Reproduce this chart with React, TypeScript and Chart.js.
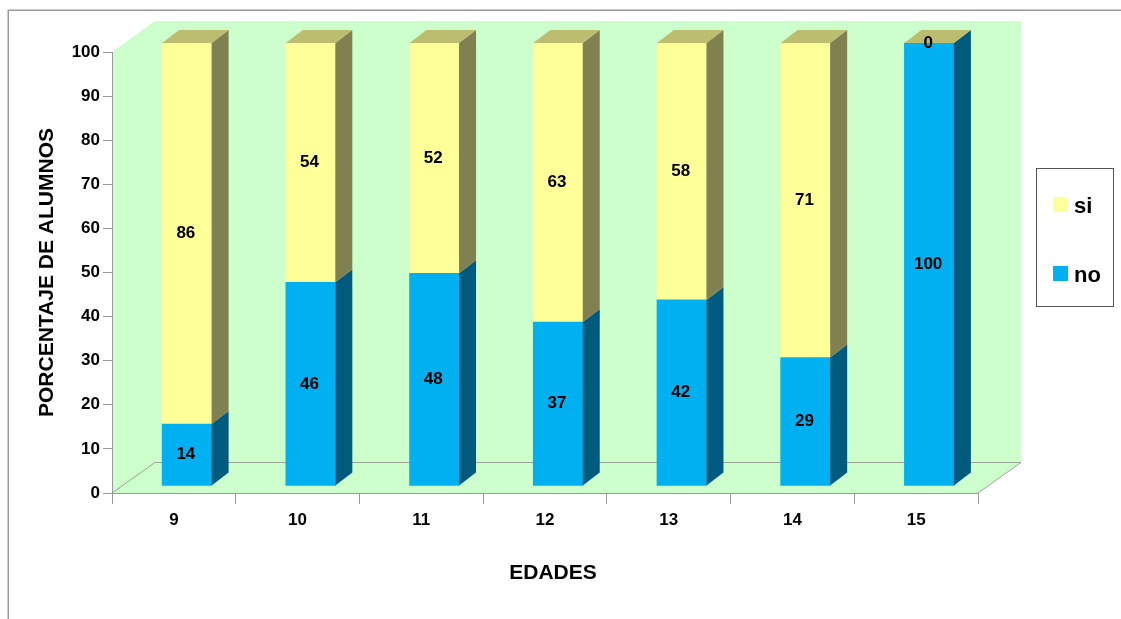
import { useEffect, useRef } from "react";
import { Chart, registerables } from "chart.js";

Chart.register(...registerables);

const edades = ["9", "10", "11", "12", "13", "14", "15"];
const no = [14, 46, 48, 37, 42, 29, 100];
const si = [86, 54, 52, 63, 58, 71, 0];

const FONT = '"Liberation Sans", Arial, sans-serif';
const GRAY = "#999999";

const yellow = { front: "#FFFF99", side: "#808050", top: "#BDBD70" };
const blue = { front: "#00B0F0", side: "#005A7E" };

// Depth of the floor and of the bars, in canvas pixels
const WALL = { dx: 43, dy: -31 };
const BAR = { dx: 17, dy: -13 };
// The bars stand a little inside the floor, in front of the wall
const INSET = { dx: 13, baseShift: -7, stretch: 443 / 441 };

const poly = (ctx: CanvasRenderingContext2D, pts: number[][], fill: string) => {
  ctx.beginPath();
  pts.forEach(([x, y], i) => (i ? ctx.lineTo(x, y) : ctx.moveTo(x, y)));
  ctx.closePath();
  ctx.fillStyle = fill;
  ctx.fill();
};

const line = (ctx: CanvasRenderingContext2D, pts: number[][], color: string, width = 1) => {
  ctx.beginPath();
  pts.forEach(([x, y], i) => (i ? ctx.lineTo(x, y) : ctx.moveTo(x, y)));
  ctx.strokeStyle = color;
  ctx.lineWidth = width;
  ctx.stroke();
};

const scene = {
  id: "scene3d",
  beforeDraw(chart: any) {
    const { ctx, chartArea: a } = chart;
    ctx.save();
    ctx.fillStyle = "#FFFFFF";
    ctx.fillRect(0, 0, chart.width, chart.height);
    line(ctx, [[8.25, chart.height], [8.25, 10.25], [chart.width, 10.25]], "#9A9A9A", 1.5);
    poly(
      ctx,
      [
        [a.left, a.top],
        [a.left + WALL.dx, a.top + WALL.dy],
        [a.right + WALL.dx, a.top + WALL.dy],
        [a.right + WALL.dx, a.bottom + WALL.dy],
        [a.right, a.bottom],
        [a.left, a.bottom],
      ],
      "#CCFFCC"
    );
    line(
      ctx,
      [
        [a.left, a.bottom],
        [a.left + WALL.dx, a.bottom + WALL.dy + 0.5],
        [a.right + WALL.dx, a.bottom + WALL.dy + 0.5],
        [a.right, a.bottom],
      ],
      "#9AA596"
    );
    ctx.restore();
  },
  beforeDatasetsDraw(chart: any) {
    const { ctx, chartArea: a } = chart;
    ctx.save();
    const baseline = a.bottom + INSET.baseShift;
    ctx.transform(1, 0, 0, INSET.stretch, INSET.dx, baseline - a.bottom * INSET.stretch);
  },
  afterDatasetsDraw(chart: any) {
    const { ctx, chartArea: a } = chart;
    ctx.restore();

    const baseline = a.bottom + INSET.baseShift;
    const px = (x: number) => x + INSET.dx;
    const py = (y: number) => baseline + (y - a.bottom) * INSET.stretch;

    ctx.save();
    chart.data.datasets.forEach((ds: any, di: number) => {
      const tones = di === 0 ? blue : yellow;
      chart.getDatasetMeta(di).data.forEach((bar: any) => {
        const right = px(bar.x) + bar.width / 2;
        const top = py(bar.y);
        const base = py(bar.base);
        poly(
          ctx,
          [
            [right, top],
            [right + BAR.dx, top + BAR.dy],
            [right + BAR.dx, base + BAR.dy],
            [right, base],
          ],
          tones.side
        );
        if (di === 1) {
          const left = right - bar.width;
          poly(
            ctx,
            [
              [left, top],
              [left + BAR.dx, top + BAR.dy],
              [right + BAR.dx, top + BAR.dy],
              [right, top],
            ],
            yellow.top
          );
        }
      });
    });

    // Value labels sit at the middle of each segment's front face
    ctx.fillStyle = "#000000";
    ctx.font = `bold 17px ${FONT}`;
    ctx.textAlign = "center";
    ctx.textBaseline = "middle";
    chart.data.datasets.forEach((ds: any, di: number) => {
      chart.getDatasetMeta(di).data.forEach((bar: any, i: number) => {
        const cy = (py(bar.y) + py(bar.base)) / 2;
        ctx.fillText(String(ds.data[i]), px(bar.x) - 1, cy);
      });
    });
    ctx.restore();
  },
  afterDraw(chart: any) {
    const { ctx } = chart;
    ctx.save();

    ctx.fillStyle = "#000000";
    ctx.font = `bold 21px ${FONT}`;
    ctx.textAlign = "center";
    ctx.textBaseline = "middle";
    ctx.fillText("EDADES", 553, 573);

    // Legend box
    ctx.fillStyle = "#FFFFFF";
    ctx.fillRect(1037, 169, 76, 138);
    ctx.strokeStyle = "#555555";
    ctx.lineWidth = 1;
    ctx.strokeRect(1036.5, 168.5, 77, 138);

    const entries = [
      { label: chart.data.datasets[1].label, color: yellow.front, y: 205 },
      { label: chart.data.datasets[0].label, color: blue.front, y: 274 },
    ];
    ctx.textAlign = "left";
    ctx.font = `bold 22px ${FONT}`;
    entries.forEach((e) => {
      ctx.fillStyle = e.color;
      ctx.fillRect(1053, e.y - 8, 15, 15);
      ctx.fillStyle = "#000000";
      ctx.fillText(e.label, 1074, e.y + 2);
    });
    ctx.restore();
  },
};

export default function App() {
  const ref = useRef<HTMLCanvasElement>(null);

  useEffect(() => {
    const chart = new Chart(ref.current!, {
      type: "bar",
      data: {
        labels: edades,
        datasets: [
          { label: "no", data: no, backgroundColor: blue.front, barThickness: 49.5, clip: false },
          { label: "si", data: si, backgroundColor: yellow.front, barThickness: 49.5, clip: false },
        ],
      },
      options: {
        responsive: false,
        animation: false,
        layout: { padding: { left: 0, top: 52, right: 143, bottom: 0 } },
        plugins: { legend: { display: false }, tooltip: { enabled: false }, title: { display: false } },
        scales: {
          x: {
            stacked: true,
            afterFit: (s: any) => {
              s.height = 126;
            },
            grid: {
              offset: true,
              drawOnChartArea: false,
              color: GRAY,
              tickLength: 11,
              tickColor: GRAY,
            },
            border: { color: GRAY },
            ticks: {
              color: "#000000",
              padding: 6,
              maxRotation: 0,
              font: { family: FONT, size: 17, weight: "bold" },
            },
          },
          y: {
            stacked: true,
            min: 0,
            max: 100,
            afterFit: (s: any) => {
              s.width = 112;
            },
            grid: {
              drawOnChartArea: false,
              color: GRAY,
              tickLength: 9,
              tickColor: GRAY,
            },
            border: { color: GRAY },
            ticks: {
              stepSize: 10,
              color: "#000000",
              padding: 3,
              font: { family: FONT, size: 17, weight: "bold" },
            },
            title: {
              display: true,
              text: "PORCENTAJE DE ALUMNOS",
              color: "#000000",
              padding: { top: 35, bottom: 0 },
              font: { family: FONT, size: 21, weight: "bold" },
            },
          },
        },
      },
      plugins: [scene],
    } as any);
    return () => chart.destroy();
  }, []);

  return (
    <div style={{ position: "fixed", left: 0, top: 0, width: 1121, height: 619, overflow: "hidden" }}>
      <canvas ref={ref} width={1121} height={619} style={{ display: "block" }} />
    </div>
  );
}
